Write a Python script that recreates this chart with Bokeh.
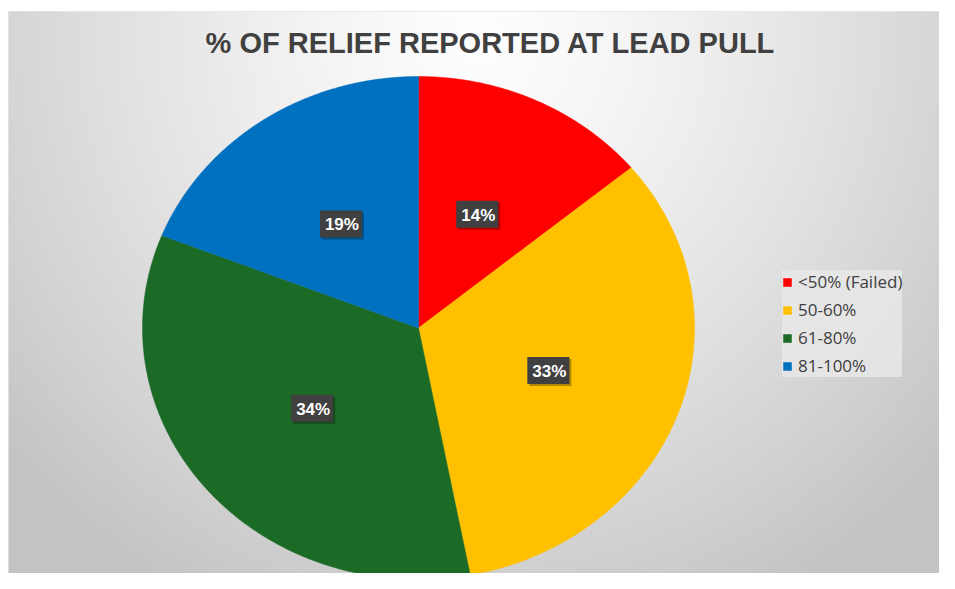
import numpy as np
from bokeh.plotting import figure
from bokeh.models import ColumnDataSource, Legend, LegendItem, Label, Range1d
from bokeh.core.properties import value
from bokeh.embed import file_html
from bokeh.resources import INLINE

title_text = "% OF RELIEF REPORTED AT LEAD PULL"
categories = ["<50% (Failed)", "50-60%", "61-80%", "81-100%"]
values = [14, 33, 34, 19]
colors = ["#FF0000", "#FFC000", "#1B6B26", "#0070C0"]

W, H = 939, 573
BL, BT = 8, 11
FW, FH = W - BL, H - BT
# pie center / radii in frame px (pie is stretched horizontally)
CX, CY, RX, RY = 410, 316.5, 276, 251.5

p = figure(width=W, height=H, output_backend="svg", toolbar_location=None,
           x_range=Range1d(-CX / RX, (FW - CX) / RX),
           y_range=Range1d((CY - FH) / RY, CY / RY),
           min_border=0, min_border_left=BL, min_border_top=BT)
p.axis.visible = False
p.grid.visible = False
p.outline_line_color = "#e6e6e6"
p.background_fill_color = "#dcdcdc"
p.border_fill_color = "#ffffff"

# background radial gradient
gw, gh = 466, 281
xs = np.linspace(0, FW, gw)
ys = np.linspace(FH, 0, gh)  # row 0 is bottom
XX, YY = np.meshgrid(xs, ys)
d = np.sqrt(((XX - 470) / 620.0) ** 2 + ((YY - 25) / 640.0) ** 2)
g = np.clip(254 - 58 * np.clip(d, 0, 1.2) ** 1.3, 195, 255).astype(np.uint32)
img = (255 << 24) | (g << 16) | (g << 8) | g
p.image_rgba(image=[img.view(np.uint32)], x=-CX / RX, y=(CY - FH) / RY,
             dw=FW / RX, dh=FH / RY)

# pie slices
total = float(sum(values))
fr = np.cumsum([0] + values) / total
xs_list, ys_list, lx, ly, texts = [], [], [], [], []
for i, v in enumerate(values):
    t = np.linspace(fr[i], fr[i + 1], 200) * 2 * np.pi
    xs_list.append([0.0] + list(np.sin(t)) + [0.0])
    ys_list.append([0.0] + list(np.cos(t)) + [0.0])
    m = (fr[i] + fr[i + 1]) / 2 * 2 * np.pi
    lx.append(0.5 * np.sin(m))
    ly.append(0.5 * np.cos(m))
    texts.append(f"{v}%")

renderers = []
for i in range(len(values)):
    src = ColumnDataSource(dict(xs=[xs_list[i]], ys=[ys_list[i]]))
    r = p.patches("xs", "ys", source=src, fill_color=colors[i], line_color=colors[i], line_width=0.5)
    renderers.append(r)

lsrc = ColumnDataSource(dict(x=lx, y=ly, text=texts))
# shadow
p.text("x", "y", text="text", source=lsrc, text_alpha=0, text_font=value("Liberation Sans"),
       text_font_style="bold", text_font_size="17px", text_align="center", text_baseline="middle",
       background_fill_color="#000000", background_fill_alpha=0.3, padding=[5, 3, 5, 3],
       x_offset=2, y_offset=2)
p.text("x", "y", text="text", source=lsrc, text_color="white", text_font=value("Liberation Sans"),
       text_font_style="bold", text_font_size="17px", text_align="center", text_baseline="middle",
       background_fill_color="#404040", padding=[5, 3, 5, 3])

# title
p.add_layout(Label(x=482, y=FH - 31, x_units="screen", y_units="screen", text=title_text,
                   text_font="Liberation Sans", text_font_style="bold", text_font_size="29px",
                   text_color="#404040", text_align="center", text_baseline="middle"))

legend = Legend(items=[LegendItem(label=c, renderers=[r]) for c, r in zip(categories, renderers)],
                location=(774, 196), orientation="vertical",
                glyph_width=10, glyph_height=10, label_text_font_size="17px",
                label_text_font="Open Sans", label_text_color="#404040",
                label_height=20, spacing=5, padding=5, margin=0,
                background_fill_color="#e8e8e8", background_fill_alpha=0.85,
                border_line_color=None, label_standoff=6)
p.add_layout(legend)

open("out.html", "w").write(file_html(p, INLINE))
